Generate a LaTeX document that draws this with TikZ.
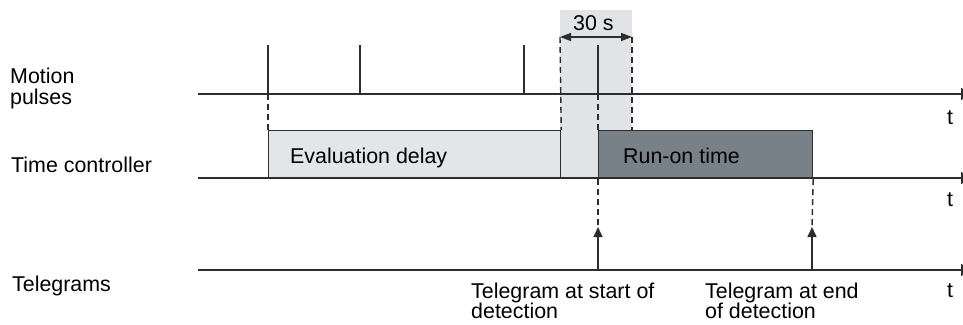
\documentclass[tikz,border=0pt]{standalone}
\usepackage{fontspec}
\setmainfont{Liberation Sans}
\usetikzlibrary{arrows.meta}

\definecolor{lightfill}{RGB}{228,229,233}
\definecolor{windowfill}{RGB}{226,227,230}
\definecolor{darkfill}{RGB}{120,129,136}
\definecolor{ink}{RGB}{45,45,45}

\begin{document}
\begin{tikzpicture}[x=1pt,y=-1pt,
  every node/.style={font=\fontsize{21.4}{21}\selectfont, inner sep=0pt, text=black},
  timeaxis/.style={draw=ink, line width=1.7pt, -{Triangle[length=10pt,width=12pt]}},
  pulse/.style={draw=ink, line width=1.4pt},
  guide/.style={draw=ink, line width=1.4pt, dash pattern=on 6pt off 4pt},
  phase/.style={draw=ink, line width=1.2pt, anchor=north west, inner sep=0pt},
  tele/.style={draw=ink, line width=1.4pt, -{Triangle[length=10pt,width=9pt]}},
  span/.style={draw=ink, line width=1.4pt, {Triangle[length=11pt,width=8pt]}-{Triangle[length=11pt,width=8pt]}},
  lbl/.style={anchor=base west}]

\useasboundingbox (0,0) rectangle (963,324);

% 30 s window
\fill[windowfill] (560,10) rectangle (632,178);

% phase boxes of the time controller
\node[phase, fill=lightfill, minimum width=292pt, minimum height=48pt] (eval) at (268,130) {};
\node[phase, fill=darkfill, minimum width=214pt, minimum height=48pt] (runon) at (598,130) {};
\node[lbl] (evaltxt) at (290,163) {Evaluation delay};
\node[lbl] (runontxt) at (623,163) {Run-on time};

% time axes
\coordinate (ma) at (198,94);  \coordinate (mb) at (971,94);
\coordinate (ca) at (198,178); \coordinate (cb) at (971,178);
\coordinate (ta) at (198,270); \coordinate (tb) at (971,270);
\draw[timeaxis] (ma) -- (mb);
\draw[timeaxis] (ca) -- (cb);
\draw[timeaxis] (ta) -- (tb);

% motion pulses
\coordinate (p1) at (268,94); \coordinate (p1t) at (268,45);
\coordinate (p2) at (360,94); \coordinate (p2t) at (360,45);
\coordinate (p3) at (524,94); \coordinate (p3t) at (524,45);
\coordinate (p4) at (598,94); \coordinate (p4t) at (598,45);
\draw[pulse] (p1) -- (p1t);
\draw[pulse] (p2) -- (p2t);
\draw[pulse] (p3) -- (p3t);
\draw[pulse] (p4) -- (p4t);

% window limits and 30 s span
\coordinate (w1) at (560,37);
\coordinate (w2) at (632,37);
\draw[guide] (w1) -- (eval.north east);
\draw[guide] (w2) -- (w2 |- runon.north);
\draw[span] (w1) -- (w2);
\node[lbl] (win) at (573,30) {30 s};

% guides from the pulses to the boxes
\draw[guide] (p1) -- (eval.north west);
\draw[guide] (p4) -- (runon.north west);

% telegrams
\coordinate (g1) at (598,227); \coordinate (g1b) at (598,270);
\coordinate (g2) at (812,227); \coordinate (g2b) at (812,270);
\draw[guide] (runon.south west) -- (g1);
\draw[guide] (runon.south east) -- (g2);
\draw[tele] (g1b) -- (g1);
\draw[tele] (g2b) -- (g2);

% row labels
\node[lbl] (l1a) at (10,83) {Motion};
\node[lbl] (l1b) at (10,104) {pulses};
\node[lbl] (l2) at (11,172) {Time controller};
\node[lbl] (l3) at (12,291) {Telegrams};

% axis labels
\node[lbl] (t1) at (947,124) {t};
\node[lbl] (t2) at (947,206) {t};
\node[lbl] (t3) at (947,297) {t};

% telegram labels
\node[lbl] (s1) at (471,298) {Telegram at start of};
\node[lbl] (s2) at (471,318) {detection};
\node[lbl] (e1) at (705,298) {Telegram at end};
\node[lbl] (e2) at (705,318) {of detection};
\end{tikzpicture}
\end{document}
